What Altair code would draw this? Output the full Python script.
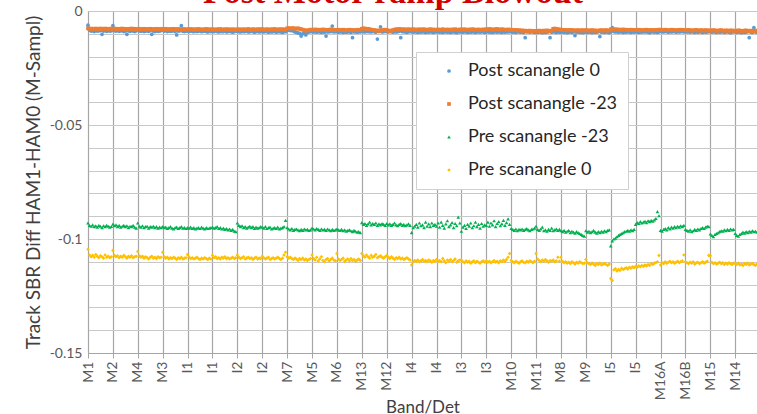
import altair as alt
import pandas as pd

chart_title = "Post Motor ramp Blowout"

band_labels = ["M1", "M2", "M4", "M3", "I1", "I1", "I2", "I2", "M7", "M5", "M6", "M13", "M12",
               "I4", "I4", "I3", "I3", "M10", "M11", "M8", "M9", "I5", "I5", "M16A", "M16B", "M15", "M14"]
dets_per_label = 16

series_names = ["Post scanangle 0", "Post scanangle -23", "Pre scanangle -23", "Pre scanangle 0"]
series_colors = ["#5B9BD5", "#ED7D31", "#00B050", "#FFC000"]

# values in units of 1e-4 (M-Sampl), 16 per band label
post_0 = [
    -62, -84, -88, -86, -90, -85, -88, -87, -86, -102, -88, -85, -89, -86, -88, -87,
    -64, -86, -88, -85, -89, -87, -86, -90, -88, -102, -87, -89, -86, -88, -90, -87,
    -80, -87, -89, -86, -90, -88, -87, -89, -86, -102, -88, -90, -87, -89, -88, -86,
    -82, -88, -86, -90, -87, -89, -88, -86, -90, -105, -88, -87, -64, -89, -90, -88,
    -88, -90, -87, -89, -91, -88, -90, -89, -87, -91, -89, -88, -90, -92, -89, -90,
    -89, -91, -88, -90, -92, -89, -91, -90, -88, -92, -90, -89, -91, -93, -90, -89,
    -88, -90, -92, -89, -91, -90, -88, -92, -91, -89, -90, -93, -91, -89, -92, -90,
    -90, -92, -89, -91, -93, -90, -92, -91, -89, -93, -91, -90, -92, -94, -90, -91,
    -82, -84, -86, -85, -88, -92, -94, -96, -98, -110, -100, -96, -105, -94, -92, -90,
    -90, -92, -91, -93, -90, -92, -94, -91, -93, -110, -92, -90, -91, -66, -92, -90,
    -91, -93, -90, -92, -94, -91, -93, -92, -90, -94, -117, -92, -91, -93, -90, -92,
    -88, -90, -92, -89, -91, -90, -92, -89, -91, -93, -123, -90, -70, -92, -91, -89,
    -90, -92, -89, -91, -93, -90, -92, -91, -89, -117, -91, -90, -92, -94, -91, -90,
    -91, -93, -90, -92, -94, -91, -93, -90, -92, -94, -91, -93, -90, -92, -94, -91,
    -92, -90, -93, -91, -94, -92, -90, -93, -91, -94, -92, -90, -93, -95, -91, -92,
    -91, -93, -90, -92, -94, -91, -93, -92, -90, -94, -92, -91, -93, -90, -92, -94,
    -92, -90, -93, -91, -94, -92, -90, -93, -91, -92, -94, -90, -93, -91, -92, -90,
    -91, -93, -92, -94, -90, -92, -93, -91, -94, -117, -92, -90, -93, -91, -92, -94,
    -92, -94, -91, -93, -95, -92, -94, -93, -91, -117, -93, -90, -92, -94, -91, -93,
    -93, -91, -94, -92, -95, -93, -91, -94, -92, -108, -93, -91, -94, -92, -95, -93,
    -92, -94, -91, -93, -95, -92, -94, -93, -91, -112, -93, -92, -94, -91, -93, -95,
    -92, -73, -90, -92, -91, -93, -90, -92, -94, -91, -93, -90, -92, -94, -91, -93,
    -90, -92, -94, -91, -93, -90, -92, -91, -93, -95, -92, -90, -93, -91, -94, -92,
    -88, -90, -92, -89, -91, -93, -90, -92, -91, -89, -93, -90, -92, -91, -89, -92,
    -90, -92, -91, -93, -90, -92, -94, -91, -93, -92, -90, -94, -91, -93, -92, -90,
    -91, -93, -90, -92, -94, -91, -93, -92, -90, -94, -92, -91, -93, -95, -92, -91,
    -92, -94, -91, -93, -95, -92, -94, -93, -91, -117, -93, -94, -73, -92, -94, -93,
]

post_m23 = [
    -76, -78, -77, -79, -78, -77, -79, -78, -77, -78, -79, -77, -78, -79, -78, -77,
    -78, -77, -79, -78, -80, -78, -77, -79, -78, -80, -79, -78, -77, -79, -78, -80,
    -79, -78, -80, -79, -78, -80, -79, -81, -78, -79, -80, -79, -78, -80, -79, -78,
    -79, -80, -78, -80, -81, -79, -80, -78, -81, -80, -79, -80, -81, -79, -80, -81,
    -80, -81, -79, -80, -82, -80, -81, -79, -80, -82, -81, -80, -79, -81, -80, -82,
    -80, -81, -82, -80, -81, -79, -81, -82, -80, -81, -80, -82, -81, -80, -82, -81,
    -81, -80, -82, -81, -80, -82, -81, -79, -81, -82, -80, -81, -82, -80, -81, -80,
    -80, -81, -82, -80, -81, -82, -80, -81, -79, -81, -82, -80, -81, -80, -82, -81,
    -76, -75, -77, -76, -75, -78, -77, -76, -78, -80, -82, -84, -86, -85, -84, -82,
    -82, -83, -81, -82, -84, -82, -83, -81, -82, -83, -84, -82, -81, -83, -82, -84,
    -83, -82, -84, -83, -82, -84, -85, -83, -82, -84, -83, -85, -84, -83, -82, -84,
    -78, -76, -77, -79, -78, -80, -82, -83, -84, -86, -85, -87, -86, -84, -83, -82,
    -84, -86, -88, -86, -84, -82, -80, -81, -79, -80, -81, -80, -82, -81, -80, -82,
    -81, -80, -82, -81, -83, -80, -82, -81, -80, -82, -83, -81, -80, -82, -81, -83,
    -82, -81, -83, -82, -80, -82, -83, -81, -82, -83, -81, -82, -80, -82, -83, -81,
    -81, -82, -80, -82, -83, -81, -82, -80, -81, -83, -82, -81, -83, -82, -81, -82,
    -80, -81, -79, -80, -82, -81, -80, -79, -81, -82, -80, -81, -83, -82, -81, -83,
    -82, -83, -84, -83, -85, -84, -86, -85, -87, -86, -88, -87, -86, -88, -87, -88,
    -87, -88, -86, -87, -88, -86, -87, -85, -88, -87, -86, -78, -77, -79, -80, -81,
    -82, -83, -84, -83, -85, -84, -83, -85, -84, -86, -85, -84, -86, -85, -84, -86,
    -84, -85, -86, -85, -84, -86, -85, -87, -86, -85, -84, -86, -85, -84, -86, -85,
    -80, -79, -81, -80, -82, -81, -83, -82, -81, -83, -82, -84, -83, -82, -84, -83,
    -83, -84, -82, -84, -85, -83, -84, -82, -84, -85, -83, -84, -85, -83, -84, -82,
    -82, -83, -84, -82, -83, -85, -84, -82, -83, -84, -85, -83, -84, -82, -83, -84,
    -84, -85, -83, -84, -86, -85, -84, -83, -85, -86, -84, -85, -86, -84, -85, -86,
    -85, -86, -84, -85, -87, -86, -85, -84, -86, -87, -85, -86, -87, -85, -86, -87,
    -86, -87, -85, -86, -88, -87, -86, -85, -87, -88, -86, -87, -88, -86, -87, -85,
]

pre_m23 = [
    -930, -940, -944, -938, -946, -942, -948, -940, -944, -950, -942, -946, -940, -944, -948, -945,
    -935, -942, -938, -946, -940, -948, -944, -940, -946, -942, -950, -944, -946, -940, -948, -952,
    -930, -944, -948, -942, -950, -946, -944, -952, -946, -948, -944, -950, -946, -952, -948, -950,
    -946, -950, -948, -954, -950, -946, -952, -956, -950, -948, -954, -950, -946, -952, -950, -954,
    -950, -952, -948, -954, -950, -956, -952, -950, -954, -948, -952, -956, -950, -954, -952, -950,
    -948, -952, -950, -946, -954, -950, -956, -952, -958, -954, -960, -956, -962, -958, -966, -968,
    -930, -940, -946, -942, -950, -946, -952, -948, -944, -950, -946, -954, -948, -952, -950, -946,
    -948, -952, -946, -954, -950, -948, -956, -952, -950, -954, -948, -956, -952, -950, -946, -918,
    -950, -956, -960, -954, -962, -958, -956, -960, -964, -958, -962, -956, -960, -958, -962, -960,
    -952, -956, -960, -954, -958, -962, -956, -960, -958, -962, -956, -960, -964, -958, -962, -960,
    -956, -960, -962, -958, -964, -960, -966, -962, -960, -964, -968, -962, -966, -970, -968, -972,
    -928, -936, -932, -940, -934, -926, -938, -932, -936, -930, -940, -934, -938, -932, -936, -940,
    -932, -938, -934, -940, -936, -930, -938, -942, -936, -932, -940, -936, -942, -938, -934, -940,
    -972, -950, -944, -936, -948, -930, -942, -938, -950, -926, -944, -934, -946, -930, -940, -936,
    -944, -930, -948, -926, -940, -952, -934, -920, -946, -938, -928, -950, -932, -942, -904, -930,
    -966, -948, -940, -954, -936, -944, -930, -950, -942, -926, -946, -936, -952, -932, -944, -938,
    -940, -926, -944, -930, -938, -920, -946, -932, -924, -942, -934, -918, -940, -928, -912, -936,
    -954, -958, -962, -956, -964, -958, -960, -956, -962, -958, -954, -960, -964, -958, -956, -952,
    -944, -958, -962, -956, -948, -964, -960, -966, -958, -962, -952, -964, -960, -956, -962, -958,
    -964, -968, -962, -970, -966, -962, -972, -966, -970, -974, -968, -972, -976, -980, -984, -988,
    -964, -970, -966, -972, -968, -962, -970, -974, -968, -972, -966, -970, -964, -968, -962, -960,
    -1030, -1008, -1000, -996, -990, -984, -980, -976, -972, -968, -966, -962, -966, -960, -964, -958,
    -936, -928, -932, -924, -930, -926, -922, -928, -920, -924, -918, -922, -916, -910, -880, -898,
    -962, -966, -958, -954, -960, -950, -956, -948, -952, -946, -950, -944, -948, -942, -946, -940,
    -958, -962, -966, -960, -968, -964, -958, -962, -956, -960, -954, -950, -954, -948, -944, -946,
    -978, -984, -990, -980, -976, -972, -968, -964, -966, -960, -964, -958, -962, -956, -960, -958,
    -976, -984, -988, -980, -976, -970, -974, -968, -972, -966, -970, -964, -968, -966, -970, -964,
]

pre_0 = [
    -1045, -1070, -1078, -1072, -1080, -1068, -1076, -1082, -1074, -1078, -1084, -1070, -1080, -1076, -1082, -1078,
    -1050, -1072, -1078, -1074, -1082, -1076, -1080, -1072, -1078, -1084, -1076, -1080, -1074, -1082, -1078, -1076,
    -1055, -1074, -1080, -1076, -1084, -1078, -1082, -1088, -1080, -1076, -1084, -1080, -1086, -1078, -1082, -1080,
    -1058, -1078, -1084, -1080, -1088, -1082, -1086, -1080, -1084, -1090, -1082, -1086, -1080, -1088, -1084, -1082,
    -1068, -1080, -1086, -1082, -1088, -1084, -1080, -1086, -1090, -1084, -1088, -1082, -1086, -1090, -1084, -1088,
    -1072, -1082, -1078, -1086, -1082, -1088, -1080, -1084, -1078, -1086, -1082, -1088, -1084, -1080, -1086, -1082,
    -1070, -1080, -1086, -1082, -1078, -1088, -1084, -1080, -1086, -1082, -1090, -1084, -1080, -1088, -1084, -1086,
    -1076, -1082, -1088, -1084, -1080, -1090, -1086, -1082, -1088, -1084, -1080, -1086, -1090, -1084, -1070, -1058,
    -1078, -1084, -1080, -1086, -1090, -1084, -1088, -1094, -1086, -1090, -1084, -1092, -1088, -1094, -1090, -1086,
    -1070, -1086, -1092, -1080, -1096, -1088, -1078, -1094, -1100, -1090, -1086, -1096, -1090, -1084, -1092, -1096,
    -1064, -1088, -1094, -1090, -1084, -1098, -1092, -1088, -1096, -1086, -1094, -1090, -1098, -1092, -1088, -1094,
    -1064, -1074, -1080, -1070, -1078, -1084, -1072, -1080, -1076, -1068, -1082, -1078, -1074, -1080, -1084, -1078,
    -1072, -1080, -1086, -1078, -1084, -1090, -1082, -1086, -1080, -1088, -1084, -1090, -1086, -1082, -1088, -1092,
    -1114, -1100, -1094, -1098, -1092, -1100, -1096, -1090, -1098, -1094, -1100, -1092, -1096, -1102, -1094, -1098,
    -1090, -1098, -1094, -1100, -1086, -1096, -1104, -1092, -1098, -1090, -1100, -1094, -1088, -1102, -1096, -1092,
    -1092, -1100, -1104, -1096, -1102, -1098, -1106, -1100, -1096, -1104, -1098, -1102, -1106, -1100, -1096, -1102,
    -1096, -1102, -1098, -1104, -1100, -1094, -1102, -1098, -1104, -1096, -1100, -1092, -1098, -1090, -1080, -1064,
    -1094, -1100, -1104, -1098, -1102, -1106, -1100, -1096, -1102, -1104, -1098, -1102, -1096, -1100, -1104, -1098,
    -1064, -1088, -1094, -1100, -1092, -1098, -1090, -1096, -1102, -1094, -1098, -1092, -1100, -1096, -1080, -1098,
    -1080, -1098, -1104, -1100, -1106, -1102, -1108, -1100, -1104, -1110, -1102, -1106, -1100, -1104, -1108, -1106,
    -1090, -1104, -1108, -1112, -1106, -1110, -1116, -1108, -1112, -1106, -1114, -1110, -1108, -1112, -1116, -1110,
    -1174, -1182, -1136, -1130, -1140, -1134, -1138, -1128, -1134, -1130, -1126, -1132, -1124, -1128, -1122, -1126,
    -1120, -1124, -1118, -1122, -1116, -1120, -1114, -1118, -1112, -1116, -1108, -1112, -1106, -1104, -1100, -1072,
    -1114, -1104, -1108, -1100, -1106, -1102, -1098, -1104, -1100, -1106, -1102, -1098, -1104, -1100, -1096, -1070,
    -1100, -1104, -1108, -1102, -1106, -1100, -1110, -1104, -1102, -1108, -1104, -1100, -1106, -1102, -1098, -1072,
    -1074, -1102, -1108, -1104, -1110, -1106, -1102, -1108, -1104, -1112, -1106, -1110, -1104, -1108, -1112, -1106,
    -1108, -1112, -1106, -1114, -1110, -1116, -1108, -1112, -1106, -1114, -1110, -1108, -1112, -1116, -1110, -1114,
]

rows = []
for name, vals in zip(series_names, [post_0, post_m23, pre_m23, pre_0]):
    for i, v in enumerate(vals):
        rows.append({"idx": i, "value": v / 10000.0, "series": name})
df = pd.DataFrame(rows)

tick_vals = [k * dets_per_label for k in range(len(band_labels))]
label_js = "[" + ",".join("'" + b + "'" for b in band_labels) + "]"
series_js = "[" + ",".join("'" + s + "'" for s in series_names) + "]"
y_ticks = [round(-0.01 * i, 2) for i in range(16)]

font = "Lato"

x_enc = alt.X(
    "idx:Q",
    scale=alt.Scale(domain=[0, 430], nice=False, zero=False),
    axis=alt.Axis(
        values=tick_vals,
        labelExpr=label_js + "[round(datum.value/16)]",
        labelAngle=-90,
        labelFont=font, labelFontSize=14, labelColor="#595959",
        labelPadding=3, labelOverlap=False,
        tickSize=5, tickColor="#a6a6a6", domainColor="#a6a6a6",
        grid=True, gridColor="#a6a6a6", gridWidth=1.2,
        title="Band/Det", titleFont=font, titleFontSize=17, titleFontWeight="normal",
        titleColor="#404040", titlePadding=0,
    ),
)
y_enc = alt.Y(
    "value:Q",
    scale=alt.Scale(domain=[-0.15, 0], nice=False, zero=False),
    axis=alt.Axis(
        values=y_ticks,
        labelExpr="round(datum.value*100) % 5 == 0 ? (datum.value == 0 ? '0' : '' + datum.value) : ''",
        labelFont=font, labelFontSize=14, labelColor="#595959", labelPadding=6,
        ticks=False, domainColor="#a6a6a6",
        grid=True, gridColor="#c8c8c8", gridWidth=1,
        title="Track SBR Diff HAM1-HAM0  (M-Sampl)", titleFont=font, titleFontSize=19,
        titleFontWeight="normal", titleColor="#404040", titlePadding=6,
    ),
)

points = alt.Chart(df).mark_point(filled=True, opacity=1).encode(
    x=x_enc,
    y=y_enc,
    color=alt.Color("series:N", scale=alt.Scale(domain=series_names, range=series_colors),
                    legend=alt.Legend(title=None, orient="none", legendX=328, legendY=41,
                                      fillColor="white", strokeColor="#d0d0d0", padding=10,
                                      rowPadding=15, symbolOffset=14, labelOffset=10,
                                      labelFont=font, labelFontSize=18, labelColor="#262626",
                                      symbolStrokeWidth=0)),
    shape=alt.Shape("series:N", scale=alt.Scale(domain=series_names,
                                                range=["circle", "square", "triangle-up", "diamond"])),
    size=alt.Size("series:N", scale=alt.Scale(domain=series_names, range=[14, 13, 24, 20])),
    order=alt.Order("series_order:Q"),
).transform_calculate(
    series_order="indexof(" + series_js + ", datum.series)"
)

title_mark = alt.Chart(pd.DataFrame({"t": [chart_title]})).mark_text(
    font="Liberation Serif", fontSize=34, fontWeight="bold", color="#D00000",
    align="center", baseline="alphabetic",
).encode(text="t:N", x=alt.value(305), y=alt.value(-8))

chart = alt.layer(points, title_mark).properties(
    width=669, height=342,
    autosize=alt.AutoSizeParams(type="none"),
    padding={"left": 88, "top": 11, "right": 0, "bottom": 61},
).configure_view(strokeWidth=0)

chart.save("out.html", embed_options={"renderer": "svg", "actions": False})
